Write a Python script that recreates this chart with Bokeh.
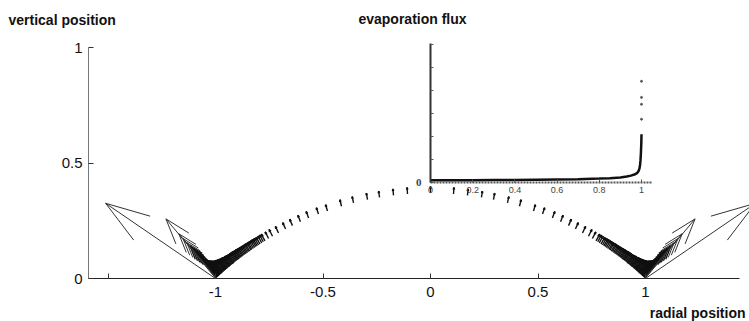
import math
from bokeh.plotting import figure
from bokeh.models import Range1d, LinearAxis, FixedTicker, Label
from bokeh.embed import file_html
from bokeh.resources import INLINE

# ---- data ----
# half profile of the drop surface: |radial position|, vertical position
half_r = [0.000, 0.107, 0.172, 0.237, 0.293, 0.358, 0.414, 0.479, 0.521, 0.567,
          0.605, 0.642, 0.674, 0.707, 0.735, 0.753, 0.770, 0.778, 0.785, 0.793,
          0.800, 0.806, 0.812, 0.818, 0.824, 0.830, 0.835, 0.841, 0.846, 0.851,
          0.856, 0.861, 0.866, 0.871, 0.875, 0.880, 0.884, 0.888, 0.892, 0.896,
          0.900, 0.904, 0.908, 0.912, 0.915, 0.919, 0.922, 0.926, 0.929, 0.932,
          0.935, 0.938, 0.941, 0.944, 0.947, 0.950, 0.952, 0.955, 0.957, 0.960,
          0.962, 0.965, 0.967, 0.969, 0.971, 0.973, 0.975, 0.977, 0.979, 0.981,
          0.982, 0.984, 0.985, 0.987, 0.988, 0.990, 0.991, 0.992, 0.993, 0.994,
          0.995, 0.996, 0.997, 0.998, 0.999, 1.000]
half_z = [0.370, 0.366, 0.360, 0.351, 0.342, 0.327, 0.313, 0.292, 0.279, 0.262,
          0.246, 0.229, 0.214, 0.197, 0.183, 0.173, 0.163, 0.159, 0.154, 0.149,
          0.145, 0.141, 0.138, 0.134, 0.130, 0.126, 0.123, 0.119, 0.116, 0.112,
          0.109, 0.106, 0.102, 0.099, 0.096, 0.093, 0.090, 0.087, 0.084, 0.082,
          0.079, 0.076, 0.073, 0.070, 0.067, 0.064, 0.062, 0.059, 0.057, 0.054,
          0.052, 0.050, 0.048, 0.045, 0.043, 0.041, 0.039, 0.037, 0.035, 0.033,
          0.031, 0.029, 0.027, 0.025, 0.024, 0.022, 0.021, 0.019, 0.017, 0.016,
          0.015, 0.013, 0.012, 0.011, 0.010, 0.008, 0.007, 0.007, 0.006, 0.005,
          0.004, 0.003, 0.002, 0.002, 0.001, 0.000]
# evaporation flux arrows: length and outward tilt from vertical (degrees)
flux_len = [0.028, 0.028, 0.028, 0.028, 0.028, 0.028, 0.029, 0.029, 0.029, 0.030,
            0.030, 0.031, 0.031, 0.032, 0.033, 0.033, 0.034, 0.034, 0.035, 0.035,
            0.035, 0.036, 0.036, 0.036, 0.037, 0.037, 0.037, 0.038, 0.038, 0.038,
            0.039, 0.039, 0.040, 0.040, 0.041, 0.041, 0.042, 0.042, 0.043, 0.043,
            0.044, 0.044, 0.045, 0.045, 0.046, 0.046, 0.047, 0.048, 0.049, 0.049,
            0.050, 0.051, 0.052, 0.053, 0.054, 0.055, 0.056, 0.057, 0.058, 0.060,
            0.061, 0.063, 0.064, 0.066, 0.068, 0.070, 0.072, 0.075, 0.078, 0.082,
            0.084, 0.089, 0.092, 0.100, 0.105, 0.115, 0.125, 0.137, 0.150, 0.167,
            0.185, 0.205, 0.230, 0.258, 0.346, 0.606]
flux_tilt = [0, 4, 6, 9, 11, 13, 15, 18, 20, 22,
             23, 25, 26, 27, 28, 29, 30, 30, 31, 31,
             31, 32, 32, 32, 32, 33, 33, 33, 33, 34,
             34, 34, 34, 35, 35, 35, 35, 35, 36, 36,
             36, 36, 36, 37, 37, 37, 37, 37, 37, 38,
             38, 38, 38, 38, 38, 39, 39, 39, 39, 39,
             39, 40, 40, 40, 40, 40, 40, 40, 40, 41,
             41, 41, 41, 41, 41, 41, 42, 42, 42, 42,
             42, 42, 42, 42, 42, 57.5]

# inset: evaporation flux vs radial position
inset_r = [0.0, 0.1, 0.2, 0.3, 0.4, 0.5, 0.6, 0.7, 0.8, 0.85, 0.9, 0.93, 0.95,
           0.97, 0.98, 0.985, 0.99, 0.993, 0.995, 0.997, 0.999, 1.0]
inset_j = [0.10, 0.10, 0.10, 0.11, 0.11, 0.12, 0.13, 0.14, 0.17, 0.19, 0.22, 0.26,
           0.30, 0.36, 0.42, 0.48, 0.60, 0.75, 0.95, 1.25, 1.70, 2.10]
spike_r = [1.0, 1.0, 1.0, 1.0]
spike_j = [2.75, 3.40, 3.70, 4.40]

main_xticks = [-1.5, -1, -0.5, 0, 0.5, 1]
main_xlabels = ["", "-1", "-0.5", "0", "0.5", "1"]
main_yticks = [0, 0.5, 1]
main_ylabels = ["0", "0.5", "1"]
inset_xticks = [0, 0.2, 0.4, 0.6, 0.8, 1]
inset_xlabels = ["0", "0.2", "0.4", "0.6", "0.8", "1"]
inset_yticks = [0, 1, 2, 3, 4, 5, 6]
inset_ylabels = ["0", "", "", "", "", "", ""]

# ---- figure: the frame fills the canvas, axes are placed with fixed_location ----
W, H = 749, 321
X0, X1 = -2.0, 1.4837             # main x range over the full canvas
Y0, Y1 = -0.1861, 1.2035          # main y range over the full canvas
AX_L, AX_R = -1.5907, 1.4372      # extent of the main axes
SX = W / (X1 - X0)
SY = H / (Y1 - Y0)

p = figure(width=W, height=H, x_range=Range1d(X0, X1), y_range=Range1d(Y0, Y1),
           output_backend="svg", toolbar_location=None,
           x_axis_location=None, y_axis_location=None,
           min_border=0, min_border_left=0, min_border_right=0,
           min_border_top=0, min_border_bottom=0)
p.title.visible = False
p.outline_line_color = None
p.grid.visible = False
p.background_fill_color = "white"
p.border_fill_color = "white"

p.extra_x_ranges = {"ix": Range1d(-2.0379, 1.5118)}
p.extra_y_ranges = {"iy": Range1d(-6.0435, 7.9130)}

FONT = "Liberation Sans"

xax = LinearAxis(fixed_location=0, bounds=(AX_L, AX_R),
                 ticker=FixedTicker(ticks=main_xticks, minor_ticks=[]))
yax = LinearAxis(fixed_location=AX_L, bounds=(0, 1),
                 ticker=FixedTicker(ticks=main_yticks, minor_ticks=[]))
for ax in (xax, yax):
    ax.major_tick_in = 5
    ax.major_tick_out = 0
    ax.minor_tick_line_color = None
    ax.major_label_text_font = FONT
    ax.major_label_text_font_size = "15px"
    ax.major_label_text_color = "#111"
    ax.major_tick_line_color = "#333"
xax.major_label_overrides = dict(zip(main_xticks, main_xlabels))
xax.axis_line_color = "#222"
xax.major_label_standoff = 8
yax.major_label_overrides = dict(zip(main_yticks, main_ylabels))
yax.axis_line_color = "#777"
yax.major_label_standoff = 6
p.add_layout(xax, "below")
p.add_layout(yax, "left")

# ---- arrows (quiver style heads) ----
xs0, ys0, xs1, ys1, lw, lc = [], [], [], [], [], []
A, B = 0.33, 0.33
for r, z, L, t in zip(half_r, half_z, flux_len, flux_tilt):
    sides = (1,) if r == 0 else (-1, 1)
    for s in sides:
        x = s * r
        u = s * L * math.sin(math.radians(t))
        v = L * math.cos(math.radians(t))
        tx, ty = x + u, z + v
        U, V = u * SX, v * SY
        w1x = tx - A * (U + B * V) / SX
        w1y = ty - A * (V - B * U) / SY
        w2x = tx - A * (U - B * V) / SX
        w2y = ty - A * (V + B * U) / SY
        long_arrow = L > 0.2
        for (a0, b0, a1, b1) in ((x, z, tx, ty), (w1x, w1y, tx, ty), (w2x, w2y, tx, ty)):
            xs0.append(a0); ys0.append(b0); xs1.append(a1); ys1.append(b1)
            lw.append(1.0 if long_arrow else 1.4)
            lc.append("#333333" if long_arrow else "#111111")
p.segment(xs0, ys0, xs1, ys1, line_color=lc, line_width=lw)

# ---- inset ----
p.line(inset_r, inset_j, x_range_name="ix", y_range_name="iy", line_color="#111", line_width=2.5)
p.scatter(spike_r, spike_j, x_range_name="ix", y_range_name="iy", size=2, color="#555")

ax_ix = LinearAxis(x_range_name="ix", y_range_name="iy", fixed_location=0, bounds=(0, 1.05),
                   ticker=FixedTicker(ticks=inset_xticks, minor_ticks=[]))
ax_ix.major_label_overrides = dict(zip(inset_xticks, inset_xlabels))
ax_ix.axis_line_color = "#555"
ax_ix.axis_line_width = 2
ax_ix.axis_line_dash = "2 1"
ax_ix.major_tick_in = 3
ax_ix.major_tick_out = 0
ax_ix.major_tick_line_color = "#555"
ax_ix.minor_tick_line_color = None
ax_ix.major_label_text_font = FONT
ax_ix.major_label_text_font_size = "9px"
ax_ix.major_label_text_color = "#444"
ax_ix.major_label_standoff = 5
p.add_layout(ax_ix, "below")

ax_iy = LinearAxis(x_range_name="ix", y_range_name="iy", fixed_location=0, bounds=(0, 6.04),
                   ticker=FixedTicker(ticks=inset_yticks, minor_ticks=[]))
ax_iy.major_label_overrides = dict(zip(inset_yticks, inset_ylabels))
ax_iy.axis_line_color = "#333"
ax_iy.axis_line_width = 2
ax_iy.major_tick_in = 3
ax_iy.major_tick_out = 0
ax_iy.major_tick_line_color = "#555"
ax_iy.minor_tick_line_color = None
ax_iy.major_label_text_font = "Liberation Serif"
ax_iy.major_label_text_font_style = "bold"
ax_iy.major_label_text_font_size = "11px"
ax_iy.major_label_standoff = 9
p.add_layout(ax_iy, "left")

# ---- text labels ----
def add_label(x, y, text, align):
    p.add_layout(Label(x=x, y=y, text=text, text_font=FONT, text_font_style="bold",
                       text_font_size="14px", text_color="#111",
                       text_align=align, text_baseline="middle"))

add_label(-1.9628, 1.1212, "vertical position", "left")
add_label(-0.0837, 1.1255, "evaporation flux", "center")
add_label(1.4651, -0.1472, "radial position", "right")

open("out.html", "w").write(file_html(p, INLINE))
